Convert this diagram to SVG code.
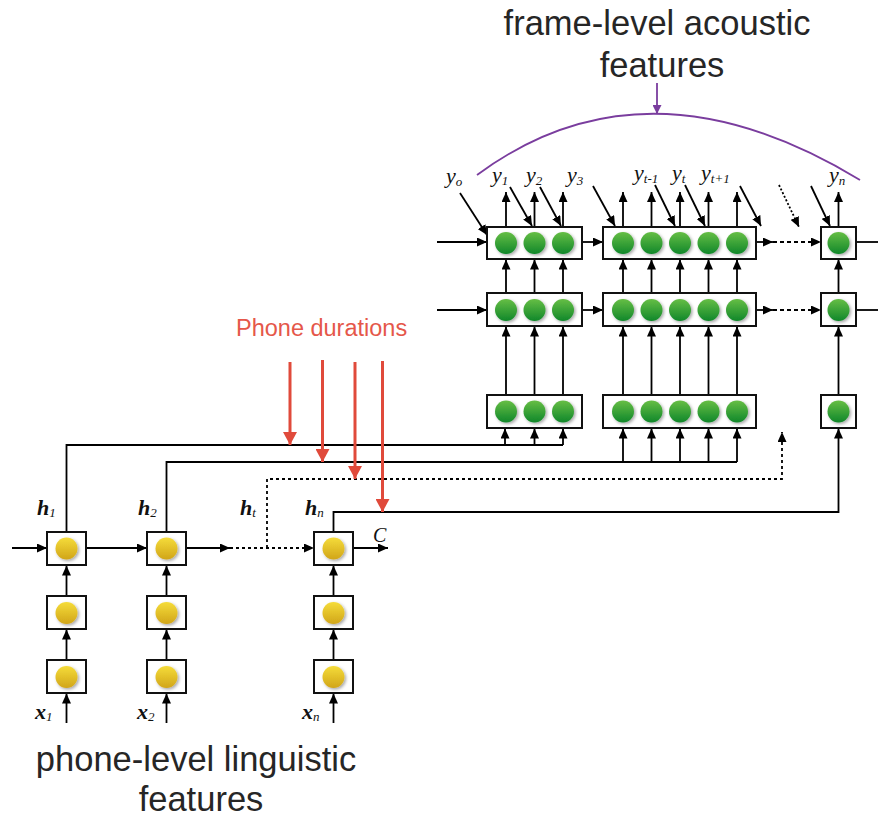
<svg xmlns="http://www.w3.org/2000/svg" width="878" height="818" viewBox="0 0 878 818">
<defs>
<linearGradient id="gGreen" x1="0" y1="0" x2="0" y2="1"><stop offset="0" stop-color="#66BE45"/><stop offset="1" stop-color="#10872A"/></linearGradient>
<linearGradient id="gYellow" x1="0" y1="0" x2="0" y2="1"><stop offset="0" stop-color="#F5DC3A"/><stop offset="1" stop-color="#D1A519"/></linearGradient>
<filter id="sh" x="-50%" y="-50%" width="200%" height="200%"><feDropShadow dx="1.5" dy="1.5" stdDeviation="1.6" flood-color="#000" flood-opacity="0.35"/></filter>
<marker id="ah" markerUnits="userSpaceOnUse" markerWidth="10" markerHeight="9" refX="10" refY="4.5" orient="auto"><path d="M0,0 L10,4.5 L0,9 z" fill="#000"/></marker>
<marker id="ahr" markerUnits="userSpaceOnUse" markerWidth="14" markerHeight="14" refX="13" refY="7" orient="auto"><path d="M0,0 L13,7 L0,14 z" fill="#E04A3B"/></marker>
<marker id="ahp" markerUnits="userSpaceOnUse" markerWidth="9" markerHeight="9" refX="9" refY="4.5" orient="auto"><path d="M0,0 L9,4.5 L0,9 z" fill="#7A3D9E"/></marker>
<style>
.box{fill:#fff;stroke:#111;stroke-width:2}
.g{fill:url(#gGreen);filter:url(#sh)}
.yl{fill:url(#gYellow);filter:url(#sh)}
.c{stroke:#000;stroke-width:1.8;fill:none}
.a{marker-end:url(#ah)}
.dash{stroke-dasharray:4 3}
.dot{stroke-dasharray:3 3}
.red{stroke:#E04A3B;stroke-width:3;fill:none;marker-end:url(#ahr)}
.lab{font-family:"Liberation Serif",serif;font-style:italic;font-size:22px;fill:#111}
.sub{font-size:13px}
.hl{font-family:"Liberation Serif",serif;font-style:italic;font-weight:bold;font-size:22px;fill:#111}
.big{font-family:"Liberation Sans",Arial,sans-serif;font-size:34.5px;fill:#262626;text-anchor:middle}
</style>
</defs>
<rect width="878" height="818" fill="#fff"/>

<g id="connectors">
<path class="c a" d="M506,227V192"/><path class="c a" d="M534.5,227V192"/><path class="c a" d="M563,227V192"/>
<path class="c a" d="M623,227V192"/><path class="c a" d="M651.5,227V192"/><path class="c a" d="M680,227V192"/><path class="c a" d="M708.5,227V192"/><path class="c a" d="M737,227V192"/>
<path class="c a" d="M838.5,227V192"/>
<path class="c a" d="M506,293V259.5"/><path class="c a" d="M534.5,293V259.5"/><path class="c a" d="M563,293V259.5"/>
<path class="c a" d="M623,293V259.5"/><path class="c a" d="M651.5,293V259.5"/><path class="c a" d="M680,293V259.5"/><path class="c a" d="M708.5,293V259.5"/><path class="c a" d="M737,293V259.5"/>
<path class="c a" d="M838.5,293V259.5"/>
<path class="c a" d="M506,395V326.5"/><path class="c a" d="M534.5,395V326.5"/><path class="c a" d="M563,395V326.5"/>
<path class="c a" d="M623,395V326.5"/><path class="c a" d="M651.5,395V326.5"/><path class="c a" d="M680,395V326.5"/><path class="c a" d="M708.5,395V326.5"/><path class="c a" d="M737,395V326.5"/>
<path class="c a" d="M838.5,395V326.5"/>
<path class="c a" d="M437,242H487"/>
<path class="c a" d="M437,310H487"/>
<path class="c a" d="M582,242H603"/>
<path class="c a" d="M582,310H603"/>
<path class="c a" d="M756,242H773"/>
<path class="c a" d="M756,310H773"/>
<path class="c a dash" d="M773,242H821"/>
<path class="c a dash" d="M773,310H821"/>
<path class="c" d="M856,242H878"/>
<path class="c" d="M856,310H878"/>
<path class="c a" d="M460,193L487,235"/>
<path class="c a" d="M510,187L532,226"/>
<path class="c a" d="M540,187L561,226"/>
<path class="c a" d="M593,186L615,226"/>
<path class="c a" d="M655,185L675,226"/>
<path class="c a" d="M685,185L705,226"/>
<path class="c a" d="M740,186L761,226"/>
<path class="c a" d="M779,185L799,227" style="stroke-dasharray:2 2"/>
<path class="c a" d="M811,186L830,226"/>
<path class="c" d="M66.5,532V445H563"/>
<path class="c a" d="M505,445V428.5"/><path class="c a" d="M534.5,445V428.5"/><path class="c a" d="M563,445V428.5"/>
<path class="c" d="M166.5,532V462H737"/>
<path class="c a" d="M623,462V428.5"/><path class="c a" d="M651.5,462V428.5"/><path class="c a" d="M680,462V428.5"/><path class="c a" d="M708.5,462V428.5"/><path class="c a" d="M737,462V428.5"/>
<path class="c a dot" d="M267,548V479H782V432"/>
<path class="c a" d="M333.5,532V512H838.5V428.5"/>
<path class="c a" d="M12,548H47"/>
<path class="c a" d="M86,548H147"/>
<path class="c a" d="M186,548H230"/>
<path class="c a dot" d="M230,548H314"/>
<path class="c a" d="M353,548H388"/>
<path class="c a" d="M66.5,596V565.5"/><path class="c a" d="M166.5,596V565.5"/><path class="c a" d="M333.5,596V565.5"/>
<path class="c a" d="M66.5,660V629.5"/><path class="c a" d="M166.5,660V629.5"/><path class="c a" d="M333.5,660V629.5"/>
<path class="c a" d="M66.5,723V693.5"/><path class="c a" d="M166.5,723V693.5"/><path class="c a" d="M333.5,723V693.5"/>
<path class="red" d="M290,362V445"/>
<path class="red" d="M322.5,360V462"/>
<path class="red" d="M355,362V479"/>
<path class="red" d="M382.5,361V512"/>
<path d="M477,175Q646,50 860,180" stroke="#7A3D9E" stroke-width="1.8" fill="none"/>
<path d="M657,83V114" stroke="#7A3D9E" stroke-width="1.8" fill="none" marker-end="url(#ahp)"/>
</g>

<g id="dec-top-1"><rect class="box" x="487" y="227" width="95" height="32"/><circle class="g" cx="506" cy="243" r="11"/><circle class="g" cx="534.5" cy="243" r="11"/><circle class="g" cx="563" cy="243" r="11"/></g>
<g id="dec-top-2"><rect class="box" x="603" y="227" width="153" height="32"/><circle class="g" cx="623" cy="243" r="11"/><circle class="g" cx="651.5" cy="243" r="11"/><circle class="g" cx="680" cy="243" r="11"/><circle class="g" cx="708.5" cy="243" r="11"/><circle class="g" cx="737" cy="243" r="11"/></g>
<g id="dec-top-3"><rect class="box" x="821" y="227" width="35" height="32"/><circle class="g" cx="838.5" cy="243" r="11"/></g>

<g id="dec-mid-1"><rect class="box" x="487" y="293" width="95" height="33"/><circle class="g" cx="506" cy="310" r="11"/><circle class="g" cx="534.5" cy="310" r="11"/><circle class="g" cx="563" cy="310" r="11"/></g>
<g id="dec-mid-2"><rect class="box" x="603" y="293" width="153" height="33"/><circle class="g" cx="623" cy="310" r="11"/><circle class="g" cx="651.5" cy="310" r="11"/><circle class="g" cx="680" cy="310" r="11"/><circle class="g" cx="708.5" cy="310" r="11"/><circle class="g" cx="737" cy="310" r="11"/></g>
<g id="dec-mid-3"><rect class="box" x="821" y="293" width="35" height="33"/><circle class="g" cx="838.5" cy="310" r="11"/></g>

<g id="dec-bot-1"><rect class="box" x="487" y="395" width="95" height="33"/><circle class="g" cx="506" cy="411.5" r="11"/><circle class="g" cx="534.5" cy="411.5" r="11"/><circle class="g" cx="563" cy="411.5" r="11"/></g>
<g id="dec-bot-2"><rect class="box" x="603" y="395" width="153" height="33"/><circle class="g" cx="623" cy="411.5" r="11"/><circle class="g" cx="651.5" cy="411.5" r="11"/><circle class="g" cx="680" cy="411.5" r="11"/><circle class="g" cx="708.5" cy="411.5" r="11"/><circle class="g" cx="737" cy="411.5" r="11"/></g>
<g id="dec-bot-3"><rect class="box" x="821" y="395" width="35" height="33"/><circle class="g" cx="838.5" cy="411.5" r="11"/></g>

<g id="enc-h1"><rect class="box" x="47" y="532" width="39" height="33"/><circle class="yl" cx="66.5" cy="548.5" r="11"/></g>
<g id="enc-h2"><rect class="box" x="147" y="532" width="39" height="33"/><circle class="yl" cx="166.5" cy="548.5" r="11"/></g>
<g id="enc-hn"><rect class="box" x="314" y="532" width="39" height="33"/><circle class="yl" cx="333.5" cy="548.5" r="11"/></g>
<g id="enc-m1"><rect class="box" x="47" y="596" width="39" height="33"/><circle class="yl" cx="66.5" cy="613" r="11"/></g>
<g id="enc-m2"><rect class="box" x="147" y="596" width="39" height="33"/><circle class="yl" cx="166.5" cy="613" r="11"/></g>
<g id="enc-mn"><rect class="box" x="314" y="596" width="39" height="33"/><circle class="yl" cx="333.5" cy="613" r="11"/></g>
<g id="enc-b1"><rect class="box" x="47" y="660" width="39" height="33"/><circle class="yl" cx="66.5" cy="677" r="11"/></g>
<g id="enc-b2"><rect class="box" x="147" y="660" width="39" height="33"/><circle class="yl" cx="166.5" cy="677" r="11"/></g>
<g id="enc-bn"><rect class="box" x="314" y="660" width="39" height="33"/><circle class="yl" cx="333.5" cy="677" r="11"/></g>

<g id="labels">
<text class="lab" x="446" y="183">y<tspan class="sub" dy="3">o</tspan></text>
<text class="lab" x="492" y="182">y<tspan class="sub" dy="3">1</tspan></text>
<text class="lab" x="526" y="182">y<tspan class="sub" dy="3">2</tspan></text>
<text class="lab" x="567" y="182">y<tspan class="sub" dy="3">3</tspan></text>
<text class="lab" x="634" y="180">y<tspan class="sub" dy="3">t-1</tspan></text>
<text class="lab" x="672" y="180">y<tspan class="sub" dy="3">t</tspan></text>
<text class="lab" x="701" y="180">y<tspan class="sub" dy="3">t+1</tspan></text>
<text class="lab" x="829" y="182">y<tspan class="sub" dy="3">n</tspan></text>
<text class="hl" x="37" y="515">h<tspan class="sub" dy="2" font-weight="normal">1</tspan></text>
<text class="hl" x="138" y="515">h<tspan class="sub" dy="2" font-weight="normal">2</tspan></text>
<text class="hl" x="240" y="515">h<tspan class="sub" dy="2" font-weight="normal">t</tspan></text>
<text class="hl" x="305" y="515">h<tspan class="sub" dy="2" font-weight="normal">n</tspan></text>
<text class="hl" x="35" y="719">x<tspan class="sub" dy="2" font-weight="normal">1</tspan></text>
<text class="hl" x="137" y="719">x<tspan class="sub" dy="2" font-weight="normal">2</tspan></text>
<text class="hl" x="302" y="719">x<tspan class="sub" dy="2" font-weight="normal">n</tspan></text>
<text class="lab" x="373" y="542" style="font-size:20px">C</text>
<text x="236" y="336" style="font-family:'Liberation Sans',Arial,sans-serif;font-size:23.5px;fill:#E5574A">Phone durations</text>
<text class="big" x="657" y="35">frame-level acoustic</text>
<text class="big" x="662" y="77">features</text>
<text class="big" x="196" y="771">phone-level linguistic</text>
<text class="big" x="201" y="811">features</text>
</g>
</svg>
